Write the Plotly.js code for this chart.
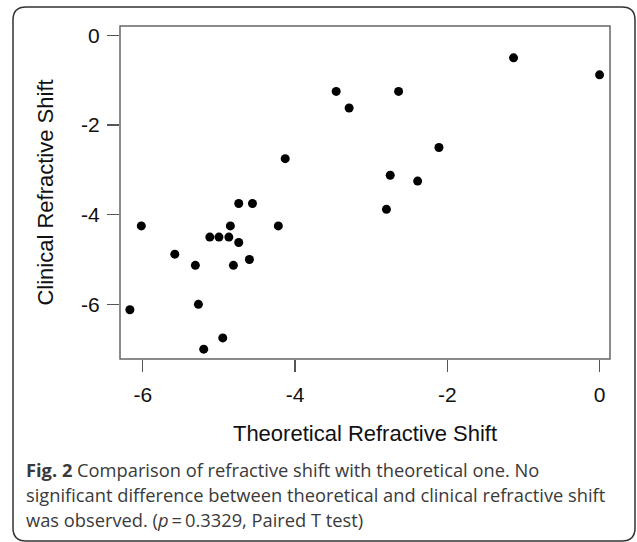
<!DOCTYPE html>
<html>
<head>
<meta charset="utf-8">
<script src="https://cdn.plot.ly/plotly-3.0.1.min.js"></script>
<style>html,body{margin:0;padding:0;background:#fff;}#chart{width:637px;height:542px;}</style>
</head>
<body>
<div id="chart"></div>
<script>
// Data
var theoreticalShift = [-6.17, -6.02, -5.58, -5.31, -5.27, -5.20, -5.12, -5.00, -4.95, -4.87,
                        -4.85, -4.81, -4.74, -4.74, -4.60, -4.56, -4.22, -4.13, -3.46, -3.29,
                        -2.64, -2.11, -2.75, -2.39, -2.80, -1.13, 0.00];
var clinicalShift    = [-6.12, -4.25, -4.88, -5.13, -6.00, -7.00, -4.50, -4.50, -6.75, -4.50,
                        -4.25, -5.13, -3.75, -4.62, -5.00, -3.75, -4.25, -2.75, -1.25, -1.62,
                        -1.25, -2.50, -3.12, -3.25, -3.88, -0.50, -0.88];
var xTickVals = [-6, -4, -2, 0];
var xTickText = ['-6', '-4', '-2', '0'];
var yTickVals = [0, -2, -4, -6];
var yTickText = ['0', '-2', '-4', '-6'];
var xTitle = 'Theoretical Refractive Shift';
var yTitle = 'Clinical Refractive Shift';
var captionLines = [
  '<b>Fig. 2</b> Comparison of refractive shift with theoretical one. No',
  'significant difference between theoretical and clinical refractive shift',
  'was observed. (<i>p</i>\u2009=\u20090.3329, Paired T test)'
];

var W = 637, H = 542;
var M = {l: 120, r: 27, t: 26, b: 183};
var PW = W - M.l - M.r, PH = H - M.t - M.b;
function fx(px) { return (px - M.l) / PW; }
function fy(py) { return (H - M.b - py) / PH; }

// rounded outer frame
var L = 13, R = 635, T = 7, B = 541, rad = 13;
var framePath = 'M ' + fx(L + rad) + ',' + fy(T) +
  ' L ' + fx(R - rad) + ',' + fy(T) +
  ' Q ' + fx(R) + ',' + fy(T) + ' ' + fx(R) + ',' + fy(T + rad) +
  ' L ' + fx(R) + ',' + fy(B - rad) +
  ' Q ' + fx(R) + ',' + fy(B) + ' ' + fx(R - rad) + ',' + fy(B) +
  ' L ' + fx(L + rad) + ',' + fy(B) +
  ' Q ' + fx(L) + ',' + fy(B) + ' ' + fx(L) + ',' + fy(B - rad) +
  ' L ' + fx(L) + ',' + fy(T + rad) +
  ' Q ' + fx(L) + ',' + fy(T) + ' ' + fx(L + rad) + ',' + fy(T) + ' Z';

var chartFont = 'Liberation Sans, Arial, sans-serif';
var capFont = 'Open Sans, sans-serif';
var capBaselines = [476, 501, 526];
var capSize = 18.3;

var annotations = captionLines.map(function (txt, i) {
  return {
    text: txt, xref: 'paper', yref: 'paper',
    x: fx(24), y: fy(capBaselines[i] - 0.33 * capSize),
    xanchor: 'left', yanchor: 'middle', showarrow: false, align: 'left',
    font: {family: capFont, size: capSize, color: '#3a3a3a'}
  };
});

var trace = {
  type: 'scatter', mode: 'markers',
  x: theoreticalShift, y: clinicalShift,
  marker: {color: '#000000', size: 9, line: {width: 0}},
  hoverinfo: 'x+y'
};

var layout = {
  width: W, height: H,
  margin: M,
  paper_bgcolor: '#ffffff', plot_bgcolor: '#ffffff',
  showlegend: false,
  font: {family: chartFont, color: '#111111'},
  xaxis: {
    range: [-6.30, 0.137], tickvals: xTickVals, ticktext: xTickText,
    ticks: 'outside', ticklen: 12, tickwidth: 1.3, tickcolor: '#555555',
    showline: false, showgrid: false, zeroline: false,
    tickfont: {family: chartFont, size: 21, color: '#111111'},
    ticklabelstandoff: 5,
    title: {text: xTitle, font: {family: chartFont, size: 22, color: '#111111'}, standoff: 20}
  },
  yaxis: {
    range: [-7.22, 0.21], tickvals: yTickVals, ticktext: yTickText,
    ticks: 'outside', ticklen: 12, tickwidth: 1.3, tickcolor: '#555555',
    showline: false, showgrid: false, zeroline: false,
    tickfont: {family: chartFont, size: 21, color: '#111111'},
    ticklabelstandoff: 3,
    title: {text: yTitle, font: {family: chartFont, size: 22, color: '#111111'}, standoff: 21}
  },
  shapes: [
    {type: 'rect', xref: 'x domain', yref: 'y domain', x0: 0, x1: 1, y0: 0, y1: 1,
     line: {color: '#666666', width: 1.5}, fillcolor: 'rgba(0,0,0,0)', layer: 'above'},
    {type: 'path', xref: 'paper', yref: 'paper', path: framePath,
     line: {color: '#333333', width: 1.5}, fillcolor: 'rgba(0,0,0,0)', layer: 'above'}
  ],
  annotations: annotations
};

Plotly.newPlot('chart', [trace], layout, {displayModeBar: false, staticPlot: true});
</script>
</body>
</html>
